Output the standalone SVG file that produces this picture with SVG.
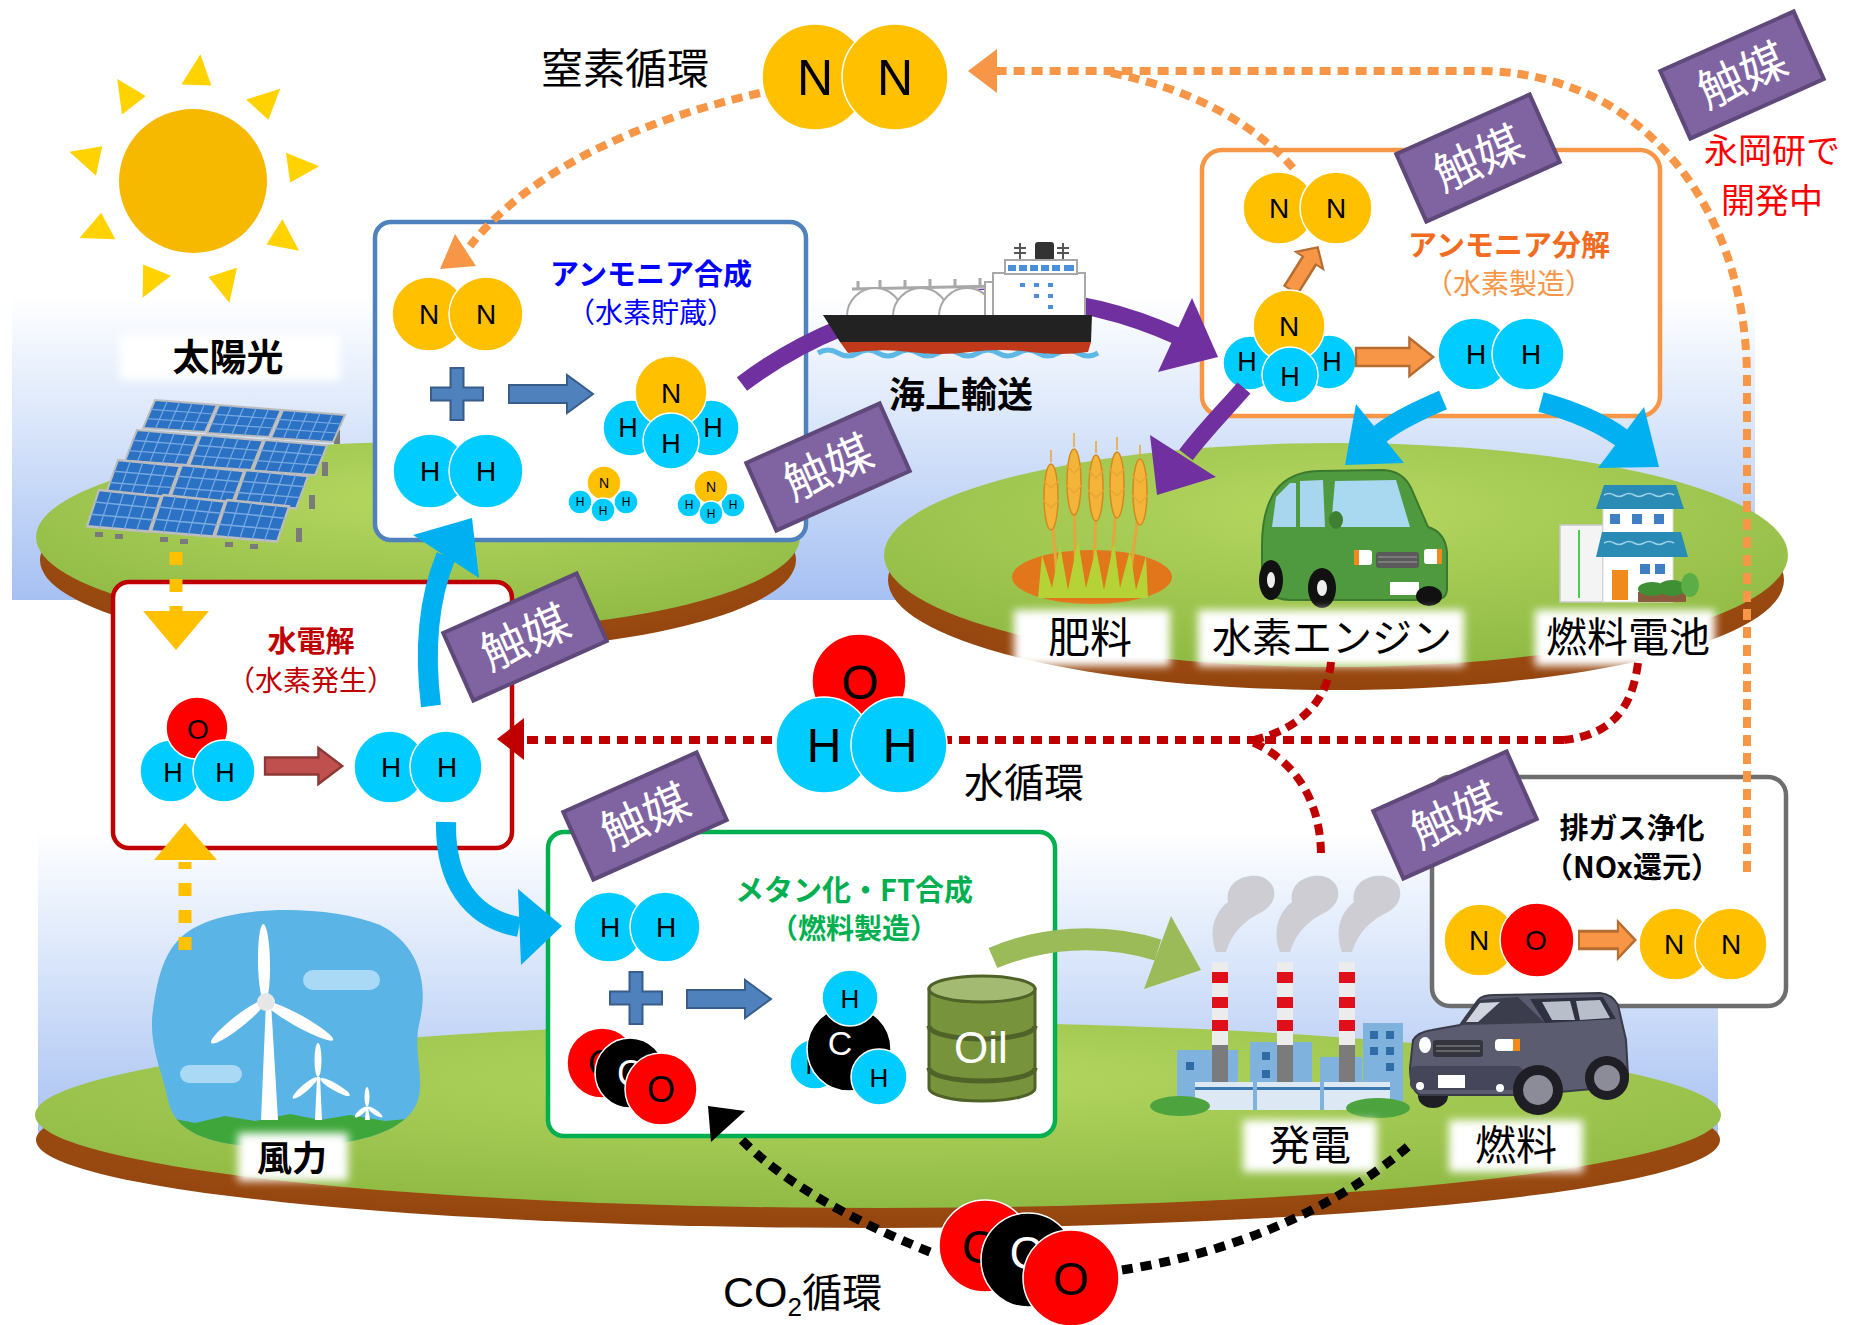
<svg xmlns="http://www.w3.org/2000/svg" width="1866" height="1325" viewBox="0 0 1866 1325">
<defs>
<style>
text{font-family:"Noto Sans CJK JP","Noto Sans CJK SC",sans-serif}
.mt{font-family:"Liberation Sans",Arial,sans-serif;text-anchor:middle;fill:#000}
.n{fill:#FFC000;stroke:#fff;stroke-width:1.5}
.h{fill:#00CCFF;stroke:#fff;stroke-width:1.5}
.o{fill:#FF0000;stroke:#fff;stroke-width:1.5}
.c{fill:#000;stroke:#fff;stroke-width:1.5}
.box{fill:#fff;stroke-width:4.5}
.cat rect{fill:#8064A2;stroke:#5F497A;stroke-width:4}
.cat text{fill:#fff;font-size:46px;text-anchor:middle}
.dor{fill:none;stroke:#F79646;stroke-width:8;stroke-dasharray:11 7}
.drd{fill:none;stroke:#C00000;stroke-width:8;stroke-dasharray:11 7}
.dyl{fill:none;stroke:#FFC000;stroke-width:13;stroke-dasharray:13 14}
.dbk{fill:none;stroke:#000;stroke-width:9;stroke-dasharray:11 8}
.lbl{text-anchor:middle;fill:#000}
.ttl{font-size:29px;font-weight:700;text-anchor:middle}
.sub{font-size:28px;text-anchor:middle}
.soft{fill:#fff;filter:url(#soft)}
.pvg{stroke:#78A8E0;stroke-width:1.2;fill:none}
</style>
<linearGradient id="skyg" x1="0" y1="0" x2="0" y2="1">
<stop offset="0" stop-color="#FFFFFF"/>
<stop offset="0.45" stop-color="#D7E4FA"/>
<stop offset="1" stop-color="#A6C0F2"/>
</linearGradient>
<radialGradient id="grass" cx="0.5" cy="0.3" r="0.7">
<stop offset="0" stop-color="#B5D760"/>
<stop offset="1" stop-color="#8FBA44"/>
</radialGradient>
<radialGradient id="soil" cx="0.5" cy="0.4" r="0.6">
<stop offset="0" stop-color="#B7601C"/>
<stop offset="1" stop-color="#93450E"/>
</radialGradient>
<filter id="soft" x="-20%" y="-30%" width="140%" height="160%"><feGaussianBlur stdDeviation="4"/></filter>
<polygon id="ray" points="96,-15 127,3 96,15"/>
<path id="plus" d="M-6.5-26h13v19.5h19.5v13h-19.5v19.5h-13v-19.5h-19.5v-13h19.5z"/>
<path id="barr" d="M0-9h58v-10l26 19-26 19v-10h-58z"/>
<path id="smoke" d="M0 952C-8 930-1 912 12 902C9 885 24 874 42 876C62 880 64 902 46 912C29 920 16 932 10 952Z"/>
<g id="pv">
<polygon points="12,0 74,5 62,32 0,28" fill="#2C72C4" stroke="#BDBDBD" stroke-width="2"/>
<path class="pvg" d="M24.4 1L12.4 28.8M36.8 2L24.8 29.6M49.2 3L37.2 30.4M61.6 4L49.6 31.2M8 9.3L70 14M4 18.7L66 23"/>
</g>
<clipPath id="blobclip"><path d="M200 925C240 905 330 905 380 925C420 945 428 985 420 1020C412 1050 425 1075 418 1100C405 1140 330 1148 270 1147C215 1146 175 1135 168 1100C162 1070 148 1045 153 1010C158 975 165 940 200 925Z"/></clipPath>
</defs>

<rect width="1866" height="1325" fill="#fff"/>

<!-- sky panels -->
<rect x="12" y="296" width="1743" height="304" fill="url(#skyg)"/>
<rect x="38" y="830" width="1680" height="312" fill="url(#skyg)"/>

<!-- islands -->
<g id="island-left">
<ellipse cx="418" cy="560" rx="378" ry="93" fill="url(#soil)"/>
<ellipse cx="418" cy="537" rx="382" ry="95" fill="url(#grass)"/>
</g>
<g id="island-right">
<ellipse cx="1336" cy="580" rx="448" ry="110" fill="url(#soil)"/>
<ellipse cx="1336" cy="555" rx="452" ry="112" fill="url(#grass)"/>
</g>
<g id="island-bottom">
<ellipse cx="878" cy="1140" rx="842" ry="88" fill="url(#soil)"/>
<ellipse cx="878" cy="1115" rx="843" ry="93" fill="url(#grass)"/>
</g>

<!-- sun -->
<g id="sun" transform="translate(193 181)">
<g fill="#FFD200">
<use href="#ray" transform="rotate(-88)"/><use href="#ray" transform="rotate(-48)"/><use href="#ray" transform="rotate(-8)"/>
<use href="#ray" transform="rotate(32)"/><use href="#ray" transform="rotate(72)"/><use href="#ray" transform="rotate(112)"/>
<use href="#ray" transform="rotate(152)"/><use href="#ray" transform="rotate(192)"/><use href="#ray" transform="rotate(232)"/>
</g>
<ellipse cx="0" cy="0" rx="74" ry="72" fill="#F7B800"/>
</g>

<!-- solar array -->
<g id="solar">
<g fill="#7A7A7A">
<rect x="334" y="430" width="6" height="14"/><rect x="322" y="462" width="6" height="14"/><rect x="309" y="495" width="6" height="14"/><rect x="296" y="528" width="6" height="14"/>
<rect x="95" y="532" width="8" height="5"/><rect x="115" y="534" width="8" height="5"/><rect x="160" y="537" width="8" height="5"/><rect x="180" y="539" width="8" height="5"/><rect x="225" y="542" width="8" height="5"/><rect x="250" y="544" width="8" height="5"/>
</g>
<use href="#pv" transform="translate(143 400)"/><use href="#pv" transform="translate(207 405)"/><use href="#pv" transform="translate(271 410)"/>
<use href="#pv" transform="translate(125 430) scale(1 1.1)"/><use href="#pv" transform="translate(189 435) scale(1 1.1)"/><use href="#pv" transform="translate(253 440) scale(1 1.1)"/>
<use href="#pv" transform="translate(106 460) scale(1 1.2)"/><use href="#pv" transform="translate(170 465) scale(1 1.2)"/><use href="#pv" transform="translate(234 470) scale(1 1.2)"/>
<use href="#pv" transform="translate(87 490) scale(1 1.3)"/><use href="#pv" transform="translate(151 495) scale(1 1.3)"/><use href="#pv" transform="translate(215 500) scale(1 1.3)"/>
</g>

<!-- wind farm -->
<g id="wind">
<path d="M200 925C240 905 330 905 380 925C420 945 428 985 420 1020C412 1050 425 1075 418 1100C405 1140 330 1148 270 1147C215 1146 175 1135 168 1100C162 1070 148 1045 153 1010C158 975 165 940 200 925Z" fill="#5BB4E6"/>
<g clip-path="url(#blobclip)">
<path d="M140 1125L170 1118L195 1123L225 1116L255 1121L290 1114L320 1120L350 1115L385 1121L430 1117L430 1160L140 1160Z" fill="#3EA63A"/>
</g>
<rect x="303" y="970" width="77" height="20" rx="10" fill="#A9D9F4"/>
<rect x="180" y="1065" width="62" height="18" rx="9" fill="#A9D9F4"/>
<g fill="#fff">
<polygon points="261,1120 278,1120 271,1002 266,1002"/>
<ellipse cx="0" cy="0" rx="39" ry="6" transform="translate(264 963) rotate(-91)"/>
<ellipse cx="0" cy="0" rx="34" ry="6" transform="translate(238 1022) rotate(142)"/>
<ellipse cx="0" cy="0" rx="39" ry="6" transform="translate(299 1021) rotate(29)"/>
<circle cx="266" cy="1002" r="9" fill="#E6E6E6"/>
<polygon points="315,1120 322,1120 320,1077 317,1077"/>
<ellipse cx="0" cy="0" rx="17" ry="3.5" transform="translate(318 1060) rotate(-90)"/>
<ellipse cx="0" cy="0" rx="16" ry="3.5" transform="translate(305 1088) rotate(140)"/>
<ellipse cx="0" cy="0" rx="17" ry="3.5" transform="translate(335 1087) rotate(30)"/>
<polygon points="365,1120 370,1120 368,1107 366,1107"/>
<ellipse cx="0" cy="0" rx="10" ry="2.5" transform="translate(367 1097) rotate(-90)"/>
<ellipse cx="0" cy="0" rx="8" ry="2.5" transform="translate(361 1112) rotate(140)"/>
<ellipse cx="0" cy="0" rx="9" ry="2.5" transform="translate(375 1112) rotate(35)"/>
</g>
</g>

<!-- crops -->
<g id="fertilizer-field">
<ellipse cx="1092" cy="577" rx="80" ry="27" fill="#E2761A"/>
<g stroke="#E3A73C" stroke-width="3">
<line x1="1051" y1="500" x2="1058" y2="592"/><line x1="1074" y1="490" x2="1076" y2="592"/><line x1="1096" y1="495" x2="1094" y2="592"/><line x1="1117" y1="492" x2="1110" y2="592"/><line x1="1140" y1="500" x2="1128" y2="592"/>
</g>
<g fill="#F4B43A" stroke="#D4891E" stroke-width="1.5">
<ellipse cx="1051" cy="497" rx="7" ry="33"/><ellipse cx="1074" cy="482" rx="7" ry="33"/><ellipse cx="1096" cy="488" rx="7" ry="33"/><ellipse cx="1117" cy="485" rx="7" ry="33"/><ellipse cx="1140" cy="492" rx="7" ry="33"/>
</g>
<g stroke="#E9A536" stroke-width="1.5" fill="none">
<path d="M1051 462v-12M1074 447v-14M1096 453v-12M1117 450v-13M1140 457v-12"/>
<path d="M1043 480l8 8 8-8M1043 500l8 8 8-8M1066 465l8 8 8-8M1066 485l8 8 8-8M1088 470l8 8 8-8M1088 490l8 8 8-8M1109 468l8 8 8-8M1109 488l8 8 8-8M1132 475l8 8 8-8M1132 495l8 8 8-8"/>
</g>
<path d="M1038 598L1042 555L1052 588L1060 545L1068 590L1078 540L1086 588L1096 548L1104 590L1114 542L1120 588L1130 550L1136 590L1146 556L1148 598Z" fill="#B5D236"/>
</g>

<g id="h2-car">
<path d="M1262 582L1262 545Q1262 510 1276 490Q1290 472 1318 471L1383 470Q1403 471 1411 488L1428 527Q1445 532 1447 552L1447 590Q1446 600 1434 600L1290 600Q1265 598 1262 582Z" fill="#4F9A3E" stroke="#3B7A2E" stroke-width="2"/>
<polygon points="1272,527 1276,497 1290,483 1296,483 1296,527" fill="#A7D6EE"/>
<polygon points="1300,527 1300,481 1323,480 1325,527" fill="#A7D6EE"/>
<polygon points="1331,527 1335,481 1396,480 1410,527" fill="#A9D9F1"/>
<ellipse cx="1336" cy="520" rx="7" ry="9" fill="#3F7F32"/>
<rect x="1354" y="550" width="18" height="15" rx="3" fill="#fff"/><rect x="1354" y="550" width="5" height="15" fill="#F08A1C"/>
<rect x="1424" y="549" width="18" height="15" rx="3" fill="#fff"/><rect x="1437" y="549" width="5" height="15" fill="#F08A1C"/>
<rect x="1376" y="552" width="43" height="16" rx="3" fill="#5A5A5A"/>
<path d="M1378 557h39M1378 562h39" stroke="#888" stroke-width="1.5"/>
<rect x="1390" y="582" width="29" height="13" fill="#fff"/>
<ellipse cx="1271" cy="580" rx="12" ry="20" fill="#111"/><ellipse cx="1271" cy="580" rx="4" ry="8" fill="#eee"/>
<ellipse cx="1322" cy="588" rx="14" ry="20" fill="#111"/><ellipse cx="1322" cy="588" rx="5" ry="8" fill="#eee"/>
<ellipse cx="1429" cy="596" rx="13" ry="10" fill="#111"/>
</g>

<g id="house">
<rect x="1560" y="525" width="43" height="77" fill="#F4F4F4" stroke="#C8C8C8" stroke-width="1.5"/>
<line x1="1579" y1="530" x2="1579" y2="598" stroke="#49D049" stroke-width="2"/>
<rect x="1603" y="505" width="70" height="30" fill="#fff" stroke="#DADADA"/>
<polygon points="1596,509 1684,509 1676,485 1604,485" fill="#2A8CB4"/>
<path d="M1604 495q5-3 10 0t10 0t10 0t10 0t10 0t10 0t10 0" stroke="#9BD0E5" stroke-width="1.5" fill="none"/>
<rect x="1610" y="514" width="10" height="10" fill="#3F7FC4"/><rect x="1632" y="514" width="10" height="10" fill="#3F7FC4"/><rect x="1654" y="514" width="10" height="10" fill="#3F7FC4"/>
<rect x="1603" y="556" width="70" height="46" fill="#fff" stroke="#DADADA"/>
<polygon points="1596,557 1688,557 1681,532 1602,532" fill="#2A8CB4"/>
<path d="M1604 543q5-3 10 0t10 0t10 0t10 0t10 0t10 0t10 0" stroke="#9BD0E5" stroke-width="1.5" fill="none"/>
<rect x="1640" y="564" width="10" height="10" fill="#3F7FC4"/><rect x="1655" y="564" width="10" height="10" fill="#3F7FC4"/>
<rect x="1612" y="570" width="16" height="30" fill="#F08A1C"/>
<rect x="1638" y="592" width="48" height="10" fill="#8B5A3C"/>
<ellipse cx="1652" cy="589" rx="14" ry="7" fill="#3F8F35"/><ellipse cx="1672" cy="588" rx="14" ry="8" fill="#3F8F35"/><ellipse cx="1690" cy="585" rx="9" ry="12" fill="#5AAE45"/>
</g>

<!-- power plant -->
<g id="power-plant">
<g fill="#CDCDD3">
<use href="#smoke" x="1216"/><use href="#smoke" x="1280"/><use href="#smoke" x="1342"/>
</g>
<g fill="#7FB2DC">
<rect x="1177" y="1050" width="61" height="60"/><rect x="1250" y="1042" width="62" height="68"/><rect x="1320" y="1057" width="42" height="53"/><rect x="1363" y="1023" width="40" height="87"/>
</g>
<g fill="#2F6BA5">
<rect x="1186" y="1062" width="8" height="8"/><rect x="1262" y="1052" width="8" height="8"/><rect x="1262" y="1070" width="8" height="8"/>
<rect x="1370" y="1031" width="8" height="8"/><rect x="1386" y="1031" width="8" height="8"/><rect x="1370" y="1047" width="8" height="8"/><rect x="1386" y="1047" width="8" height="8"/><rect x="1386" y="1063" width="8" height="8"/>
</g>
<g>
<rect x="1212" y="962" width="16" height="83" fill="#ECECEC"/><rect x="1277" y="962" width="16" height="83" fill="#ECECEC"/><rect x="1339" y="962" width="16" height="83" fill="#ECECEC"/>
<g fill="#E0101A">
<rect x="1212" y="972" width="16" height="11"/><rect x="1212" y="997" width="16" height="11"/><rect x="1212" y="1020" width="16" height="11"/>
<rect x="1277" y="972" width="16" height="11"/><rect x="1277" y="997" width="16" height="11"/><rect x="1277" y="1020" width="16" height="11"/>
<rect x="1339" y="972" width="16" height="11"/><rect x="1339" y="997" width="16" height="11"/><rect x="1339" y="1020" width="16" height="11"/>
</g>
<rect x="1212" y="1045" width="16" height="37" fill="#7B7B7B"/><rect x="1277" y="1045" width="16" height="37" fill="#7B7B7B"/><rect x="1339" y="1045" width="16" height="37" fill="#7B7B7B"/>
</g>
<rect x="1195" y="1082" width="195" height="28" fill="#DCE8F3"/>
<rect x="1195" y="1087" width="195" height="3" fill="#3D78B0"/>
<path d="M1255 1082v28M1322 1082v28" stroke="#7FB2DC" stroke-width="4"/>
<ellipse cx="1180" cy="1106" rx="30" ry="10" fill="#4DA33E"/><ellipse cx="1378" cy="1108" rx="32" ry="10" fill="#4DA33E"/>
</g>

<!-- label plates -->
<g id="labels">
<rect class="soft" x="120" y="334" width="220" height="46"/>
<rect class="soft" x="1014" y="610" width="156" height="56"/>
<rect class="soft" x="1198" y="610" width="266" height="56"/>
<rect class="soft" x="1535" y="610" width="180" height="56"/>
<rect class="soft" x="1243" y="1120" width="134" height="52"/>
<rect class="soft" x="1449" y="1120" width="134" height="52"/>
<rect class="soft" x="238" y="1133" width="110" height="48"/>
<text class="lbl" x="228" y="371" font-size="37" font-weight="700">太陽光</text>
<text class="lbl" x="1090" y="653" font-size="42">肥料</text>
<text class="lbl" x="1332" y="652" font-size="40">水素エンジン</text>
<text class="lbl" x="1628" y="652" font-size="41">燃料電池</text>
<text class="lbl" x="1310" y="1160" font-size="41">発電</text>
<text class="lbl" x="1516" y="1160" font-size="41">燃料</text>
<text class="lbl" x="292" y="1171" font-size="35" font-weight="700">風力</text>
<text class="lbl" x="961" y="408" font-size="36" font-weight="700">海上輸送</text>
<text class="lbl" x="625" y="84" font-size="42">窒素循環</text>
<text class="lbl" x="1024" y="797" font-size="40">水循環</text>
<text x="723" y="1307" font-size="40" fill="#000"><tspan font-family="Liberation Sans, Arial, sans-serif" font-size="43">CO</tspan><tspan font-family="Liberation Sans, Arial, sans-serif" font-size="26" dy="9">2</tspan><tspan dy="-9">循環</tspan></text>
<text class="lbl" x="1772" y="163" font-size="34" style="fill:#FF0000">永岡研で</text>
<text class="lbl" x="1772" y="213" font-size="34" style="fill:#FF0000">開発中</text>
</g>

<!-- ammonia synthesis -->
<g id="ammonia-synthesis">
<rect class="box" x="375" y="222" width="431" height="318" rx="16" stroke="#4F81BD"/>
<text class="ttl" x="651" y="285" fill="#0000FF">アンモニア合成</text>
<text class="sub" x="651" y="323" fill="#0000FF">（水素貯蔵）</text>
<circle class="n" cx="429" cy="314" r="37"/><circle class="n" cx="486" cy="314" r="37"/>
<text class="mt" x="429" y="324" font-size="28">N</text><text class="mt" x="486" y="324" font-size="28">N</text>
<circle class="h" cx="430" cy="471" r="37"/><circle class="h" cx="486" cy="471" r="37"/>
<text class="mt" x="430" y="481" font-size="28">H</text><text class="mt" x="486" y="481" font-size="28">H</text>
<use href="#plus" x="457" y="394" fill="#4F81BD" stroke="#385D8A" stroke-width="2"/>
<use href="#barr" x="509" y="394" fill="#4F81BD" stroke="#385D8A" stroke-width="2"/>
<circle class="h" cx="631" cy="428" r="28"/><circle class="h" cx="711" cy="428" r="28"/>
<circle class="n" cx="671" cy="392" r="36"/><circle class="h" cx="671" cy="441" r="28"/>
<text class="mt" x="671" y="403" font-size="28">N</text>
<text class="mt" x="628" y="437" font-size="27">H</text><text class="mt" x="713" y="437" font-size="27">H</text><text class="mt" x="671" y="453" font-size="27">H</text>
<circle class="h" cx="580" cy="502" r="12"/><circle class="h" cx="626" cy="502" r="12"/><circle class="n" cx="604" cy="483" r="17"/><circle class="h" cx="603" cy="510" r="12"/>
<text class="mt" x="604" y="488" font-size="14">N</text><text class="mt" x="580" y="506" font-size="12">H</text><text class="mt" x="626" y="506" font-size="12">H</text><text class="mt" x="603" y="515" font-size="12">H</text>
<circle class="h" cx="689" cy="505" r="12"/><circle class="h" cx="733" cy="505" r="12"/><circle class="n" cx="711" cy="487" r="17"/><circle class="h" cx="711" cy="513" r="12"/>
<text class="mt" x="711" y="492" font-size="14">N</text><text class="mt" x="689" y="509" font-size="12">H</text><text class="mt" x="733" y="509" font-size="12">H</text><text class="mt" x="711" y="518" font-size="12">H</text>
</g>

<!-- ammonia decomposition -->
<g id="ammonia-decomposition">
<rect class="box" x="1202" y="150" width="458" height="266" rx="20" stroke="#F79646"/>
<text class="ttl" x="1509" y="256" fill="#F26C1F">アンモニア分解</text>
<text class="sub" x="1509" y="294" fill="#F79646">（水素製造）</text>
<circle class="n" cx="1279" cy="208" r="36"/><circle class="n" cx="1336" cy="208" r="36"/>
<text class="mt" x="1279" y="218" font-size="28">N</text><text class="mt" x="1336" y="218" font-size="28">N</text>
<use href="#barr" transform="translate(1291 290) rotate(-58) scale(0.6 0.85)" fill="#F79646" stroke="#B66D31" stroke-width="3"/>
<circle class="h" cx="1250" cy="363" r="27"/><circle class="h" cx="1329" cy="362" r="27"/>
<circle class="n" cx="1289" cy="326" r="36"/><circle class="h" cx="1290" cy="375" r="28"/>
<text class="mt" x="1289" y="336" font-size="28">N</text>
<text class="mt" x="1247" y="371" font-size="27">H</text><text class="mt" x="1332" y="371" font-size="27">H</text><text class="mt" x="1290" y="386" font-size="27">H</text>
<use href="#barr" transform="translate(1356 357) scale(0.92 1)" fill="#F79646" stroke="#B66D31" stroke-width="2.5"/>
<circle class="h" cx="1474" cy="354" r="36"/><circle class="h" cx="1528" cy="354" r="36"/>
<text class="mt" x="1476" y="364" font-size="28">H</text><text class="mt" x="1531" y="364" font-size="28">H</text>
</g>

<!-- water electrolysis -->
<g id="electrolysis">
<rect class="box" x="113" y="582" width="399" height="266" rx="16" stroke="#C00000"/>
<text class="ttl" x="311" y="652" font-size="30" fill="#C00000">水電解</text>
<text class="sub" x="311" y="691" fill="#C00000">（水素発生）</text>
<circle class="h" cx="171" cy="771" r="31"/><circle class="o" cx="197" cy="728" r="31"/><circle class="h" cx="224" cy="771" r="31"/>
<text class="mt" x="198" y="739" font-size="28">O</text>
<text class="mt" x="173" y="782" font-size="27">H</text><text class="mt" x="225" y="782" font-size="27">H</text>
<use href="#barr" transform="translate(265 766) scale(0.92 0.95)" fill="#C0504D" stroke="#8C3836" stroke-width="2.5"/>
<circle class="h" cx="390" cy="767" r="36"/><circle class="h" cx="446" cy="767" r="36"/>
<text class="mt" x="391" y="777" font-size="28">H</text><text class="mt" x="447" y="777" font-size="28">H</text>
</g>

<!-- methanation / FT synthesis -->
<g id="methanation">
<rect class="box" x="548" y="832" width="507" height="304" rx="16" stroke="#00B050"/>
<text class="ttl" x="854" y="901" font-size="28" fill="#00B050">メタン化・FT合成</text>
<text class="sub" x="854" y="939" font-weight="700" fill="#00B050">（燃料製造）</text>
<circle class="h" cx="609" cy="927" r="35"/><circle class="h" cx="665" cy="927" r="35"/>
<text class="mt" x="610" y="937" font-size="28">H</text><text class="mt" x="666" y="937" font-size="28">H</text>
<use href="#plus" x="636" y="998" fill="#4F81BD" stroke="#385D8A" stroke-width="2"/>
<use href="#barr" x="687" y="999" fill="#4F81BD" stroke="#385D8A" stroke-width="2"/>
<circle class="o" cx="602" cy="1063" r="35"/><text class="mt" x="602" y="1076" font-size="36">O</text>
<circle class="c" cx="630" cy="1073" r="35"/><text class="mt" x="630" y="1086" font-size="36" style="fill:#fff">C</text>
<circle class="o" cx="661" cy="1089" r="36"/><text class="mt" x="661" y="1102" font-size="36">O</text>
<circle class="h" cx="815" cy="1064" r="25"/><text class="mt" x="815" y="1074" font-size="26">H</text>
<circle class="c" cx="849" cy="1049" r="42"/><text class="mt" x="840" y="1055" font-size="34" style="fill:#fff">C</text>
<circle class="h" cx="850" cy="998" r="28"/><text class="mt" x="850" y="1008" font-size="26">H</text>
<circle class="h" cx="879" cy="1077" r="28"/><text class="mt" x="879" y="1087" font-size="26">H</text>
<g id="oil-drum">
<path d="M929 989L929 1088A53 13 0 0 0 1035 1088L1035 989Z" fill="#77933C" stroke="#4F6228" stroke-width="3"/>
<path d="M929 1026A53 13 0 0 0 1035 1026M929 1068A53 13 0 0 0 1035 1068" fill="none" stroke="#4F6228" stroke-width="5"/>
<ellipse cx="982" cy="989" rx="53" ry="13" fill="#A3BA72" stroke="#4F6228" stroke-width="3"/>
<text class="mt" x="981" y="1063" font-size="44" style="fill:#fff">Oil</text>
</g>
</g>

<!-- exhaust purification -->
<g id="nox-reduction">
<rect class="box" x="1432" y="777" width="354" height="229" rx="18" stroke="#6E6E6E" stroke-width="5"/>
<text class="ttl" x="1632" y="839" font-size="30" fill="#000">排ガス浄化</text>
<text class="ttl" x="1632" y="878" font-size="28" fill="#000">（NOx還元）</text>
<circle class="n" cx="1480" cy="940" r="36"/><circle class="o" cx="1537" cy="940" r="37"/>
<text class="mt" x="1479" y="950" font-size="28">N</text><text class="mt" x="1536" y="950" font-size="28">O</text>
<use href="#barr" transform="translate(1579 940) scale(0.67 0.97)" fill="#F79646" stroke="#B66D31" stroke-width="3"/>
<circle class="n" cx="1675" cy="944" r="36"/><circle class="n" cx="1731" cy="944" r="36"/>
<text class="mt" x="1674" y="954" font-size="28">N</text><text class="mt" x="1731" y="954" font-size="28">N</text>
</g>

<!-- connectors -->
<g id="connectors">
<path class="dor" d="M760 93C640 120 530 170 470 246"/>
<polygon points="440,269 476,266 455,234" fill="#F79646"/>
<path class="dor" d="M1747 872L1747 380C1747 250 1690 150 1600 100C1560 80 1520 71 1480 71L996 71"/>
<polygon points="968,71 997,49 997,93" fill="#F79646"/>
<path class="dor" d="M1293 168C1260 130 1200 90 1110 73"/>
<path class="drd" d="M1564 740L522 740"/>
<polygon points="497,739 524,718 524,760" fill="#C00000"/>
<path class="drd" d="M1638 663C1632 710 1610 735 1564 740"/>
<path class="drd" d="M1331 662C1328 700 1300 730 1250 741"/>
<path class="drd" d="M1321 853C1320 800 1295 760 1250 741"/>
<path class="dbk" d="M930 1252C850 1220 780 1180 740 1138"/>
<polygon points="708,1106 745,1111 711,1142" fill="#000"/>
<path class="dbk" d="M1122 1270C1220 1255 1330 1215 1412 1143"/>
<path class="dyl" d="M176 552L176 612"/>
<polygon points="143,611 209,611 176,650" fill="#FFC000"/>
<path class="dyl" d="M185 950L185 862"/>
<polygon points="154,860 217,860 185,823" fill="#FFC000"/>
<g fill="none" stroke="#00B0F0" stroke-width="20">
<path d="M431 706C424 650 428 600 446 556"/>
<path d="M446 822C445 880 470 918 519 927"/>
<path d="M1443 400C1420 410 1398 420 1380 434"/>
<path d="M1541 402C1570 410 1600 422 1622 438"/>
</g>
<g fill="#00B0F0">
<polygon points="413,535 472,518 479,578"/>
<polygon points="518,889 562,926 521,965"/>
<polygon points="1356,404 1404,463 1345,465"/>
<polygon points="1598,468 1644,407 1659,467"/>
</g>
<g fill="none" stroke="#7030A0" stroke-width="17">
<path d="M742 384C800 340 880 305 960 298C1050 292 1120 310 1177 336"/>
<path d="M1244 388C1225 410 1205 430 1186 455"/>
</g>
<g fill="#7030A0">
<polygon points="1218,357 1192,298 1158,372"/>
<polygon points="1150,435 1216,477 1157,495"/>
</g>
<path d="M993 958C1040 938 1100 932 1158 950" fill="none" stroke="#9BBB59" stroke-width="22"/>
<polygon points="1171,916 1201,970 1144,989" fill="#9BBB59"/>
</g>

<!-- tanker -->
<g id="ship">
<path d="M818 353q10-6 20 0t20 0t20 0t20 0t20 0t20 0t20 0t20 0t20 0t20 0t20 0t20 0t20 0t20 0" fill="none" stroke="#5DB8E6" stroke-width="5"/>
<path d="M1020 243v17M1014 248h12M1014 253h12M1063 243v17M1057 248h12M1057 253h12" stroke="#555" stroke-width="2"/>
<rect x="1035" y="242" width="19" height="19" rx="3" fill="#333"/>
<rect x="850" y="290" width="190" height="26" fill="#fff"/>
<path d="M852 289L1000 286" stroke="#A8A8A8" stroke-width="3"/>
<path d="M858 289v-8M880 288v-8M905 288v-8M930 287v-8M955 287v-8M980 286v-8" stroke="#A8A8A8" stroke-width="3"/>
<g fill="#fff" stroke="#A8A8A8" stroke-width="2">
<path d="M847 316A28 28 0 0 1 903 316Z"/><path d="M893 316A28 28 0 0 1 949 316Z"/><path d="M939 316A28 28 0 0 1 995 316Z"/><path d="M985 316A28 28 0 0 1 1041 316Z"/>
<rect x="985" y="282" width="20" height="34"/>
<rect x="993" y="273" width="92" height="43"/>
<rect x="1005" y="260" width="72" height="14"/>
</g>
<g fill="#4A90D9">
<rect x="1008" y="265" width="8" height="6"/><rect x="1019" y="265" width="8" height="6"/><rect x="1030" y="265" width="8" height="6"/><rect x="1041" y="265" width="8" height="6"/><rect x="1052" y="265" width="8" height="6"/><rect x="1064" y="265" width="10" height="6"/>
<rect x="1020" y="283" width="5" height="4"/><rect x="1034" y="283" width="5" height="4"/><rect x="1048" y="283" width="5" height="4"/>
<rect x="1034" y="294" width="5" height="4"/><rect x="1048" y="294" width="5" height="4"/><rect x="1048" y="305" width="5" height="4"/>
</g>
<path d="M823 315L1092 315L1091 342L840 342Z" fill="#222"/>
<path d="M840 342L1091 342L1088 352Q1060 356 1030 352Q1000 348 970 352Q940 356 910 352Q880 348 848 353Z" fill="#C0391B"/>
</g>

<!-- free molecules -->
<g id="n2-atmosphere">
<circle class="n" cx="815" cy="77" r="53"/><circle class="n" cx="895" cy="77" r="53"/>
<text class="mt" x="815" y="95" font-size="50">N</text><text class="mt" x="895" y="95" font-size="50">N</text>
</g>
<g id="water">
<circle class="o" cx="859" cy="681" r="47"/>
<circle class="h" cx="824" cy="745" r="48"/><circle class="h" cx="899" cy="745" r="48"/>
<text class="mt" x="860" y="699" font-size="48">O</text>
<text class="mt" x="824" y="762" font-size="48">H</text><text class="mt" x="900" y="762" font-size="48">H</text>
</g>
<g id="co2">
<circle class="o" cx="985" cy="1246" r="46"/><text class="mt" x="980" y="1263" font-size="46">O</text>
<circle class="c" cx="1028" cy="1260" r="47"/><text class="mt" x="1026" y="1269" font-size="46" style="fill:#fff">C</text>
<circle class="o" cx="1071" cy="1278" r="48"/><text class="mt" x="1071" y="1295" font-size="46">O</text>
</g>

<!-- vehicle on exhaust line -->
<g id="suv">
<ellipse cx="1433" cy="1096" rx="15" ry="12" fill="#1E1E24"/>
<path d="M1410 1068L1413 1040Q1418 1032 1432 1030L1460 1025L1478 1000Q1482 995 1495 995L1600 993Q1612 994 1618 1005L1626 1040L1628 1075Q1626 1085 1615 1087L1525 1095L1420 1095Q1410 1090 1410 1068Z" fill="#5B5C70" stroke="#3A3B48" stroke-width="2"/>
<polygon points="1460,1025 1478,1000 1518,997 1545,1023" fill="#3B3D4C"/>
<polygon points="1466,1022 1480,1003 1500,1002 1478,1022" fill="#D0D4DE"/>
<polygon points="1545,1023 1530,999 1603,997 1616,1019" fill="#2F3040"/>
<polygon points="1552,1020 1542,1002 1570,1001 1575,1020" fill="#B9BECB"/>
<polygon points="1580,1020 1576,1001 1600,1000 1610,1018" fill="#B9BECB"/>
<rect x="1433" y="1040" width="50" height="17" rx="3" fill="#34353F"/>
<path d="M1436 1046h44M1436 1051h44" stroke="#777" stroke-width="1.5"/>
<ellipse cx="1425" cy="1045" rx="6" ry="8" fill="#fff"/>
<rect x="1495" y="1039" width="20" height="12" rx="4" fill="#fff"/><rect x="1513" y="1039" width="7" height="12" fill="#F08A1C"/>
<rect x="1410" y="1066" width="113" height="24" rx="6" fill="#45465A"/>
<rect x="1438" y="1075" width="27" height="13" fill="#fff"/>
<circle cx="1420" cy="1086" r="4" fill="#fff"/><circle cx="1500" cy="1088" r="4" fill="#fff"/>
<circle cx="1538" cy="1090" r="25" fill="#1E1E24"/><circle cx="1538" cy="1090" r="15" fill="#8C8C99"/>
<circle cx="1607" cy="1078" r="22" fill="#1E1E24"/><circle cx="1607" cy="1078" r="13" fill="#8C8C99"/>
</g>

<!-- catalyst tags -->
<g id="catalysts">
<g class="cat" transform="translate(828 467) rotate(-24)"><rect x="-73" y="-37" width="146" height="74"/><text y="17">触媒</text></g>
<g class="cat" transform="translate(1478 158) rotate(-24)"><rect x="-73" y="-37" width="146" height="74"/><text y="17">触媒</text></g>
<g class="cat" transform="translate(1742 75) rotate(-24)"><rect x="-73" y="-37" width="146" height="74"/><text y="17">触媒</text></g>
<g class="cat" transform="translate(525 637) rotate(-24)"><rect x="-73" y="-37" width="146" height="74"/><text y="17">触媒</text></g>
<g class="cat" transform="translate(645 816) rotate(-24)"><rect x="-73" y="-37" width="146" height="74"/><text y="17">触媒</text></g>
<g class="cat" transform="translate(1455 815) rotate(-24)"><rect x="-73" y="-37" width="146" height="74"/><text y="17">触媒</text></g>
</g>
</svg>
